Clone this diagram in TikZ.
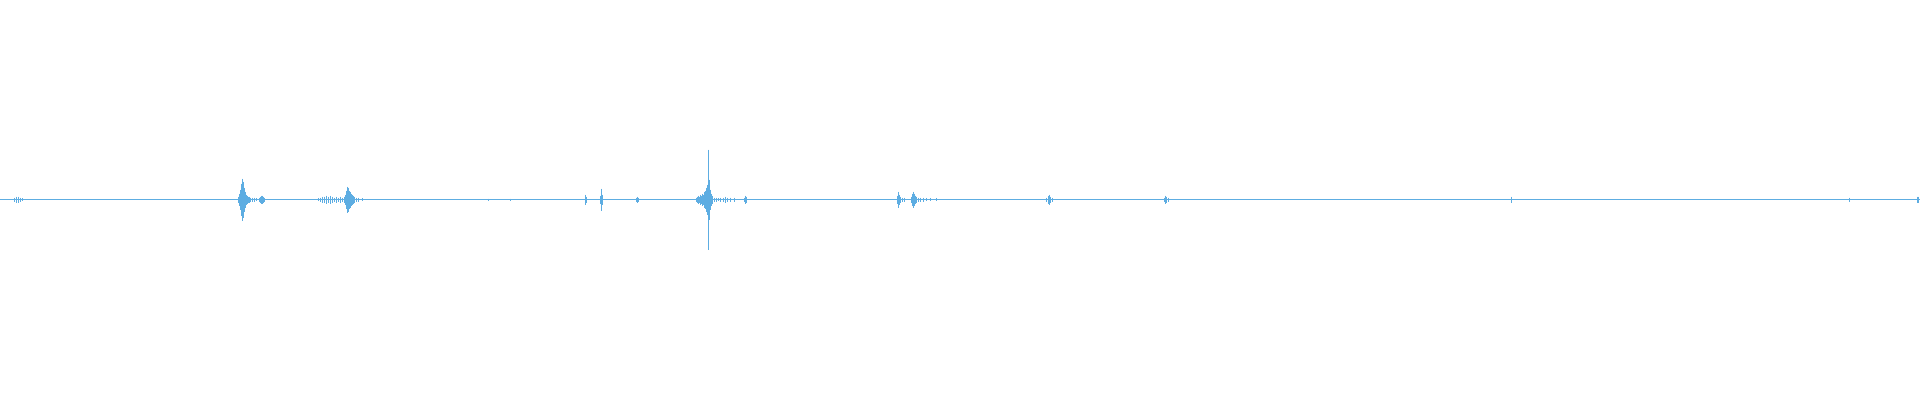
\documentclass[tikz,border=0pt]{standalone}
\definecolor{wav}{HTML}{5DADE2}
\begin{document}
\begin{tikzpicture}[x=1pt,y=-1pt,wave/.style={draw=wav,line width=1pt}]
\useasboundingbox (0,0) rectangle (1920,400);
\newcommand{\sk}[2]{\draw[wave] (#1,{199.5-#2}) -- (#1,{199.5+#2});}
\draw[wave] (0,199.5) -- (1920,199.5);
% start
\foreach \x/\h in {14/2,16/3,18/3,20/2,22/1.5} {\sk{\x}{\h}}
% first burst
\foreach \x/\h in {238/3,239/6,240/10,241/16,242/21,243/18,244/12,245/8,246/5,247/4,248/3,249/3,250/2,252/2,254/2,256/1.5,259/2,260/3,261/4,262/4,263/3,264/2} {\sk{\x}{\h}}
\foreach \x/\h in {318/1.5,320/2,322/3,324/3,326/4,328/3,330/4,332/3,334/2,336/3,338/2,340/3,342/2,344/3,345/5,346/9,347/13,348/12,349/9,350/8,351/6,352/5,353/4,354/3,356/2,358/2,362/1.5} {\sk{\x}{\h}}
\foreach \x/\h in {488/1,510/1,585/5,586/3,600/4,601/11,602/5,636/2,637/3,638/2} {\sk{\x}{\h}}
% main burst
\foreach \x/\h in {696/2,697/3,698/4,699/3,700/5,701/4,702/6,703/5,704/8,705/9,706/12,707/15,708/50,709/20,710/10,711/6,712/4,714/2,716/2,718/1.5,720/2,723/2,725/3,727/2,730/2,734/2,744/2,745/4,746/3} {\sk{\x}{\h}}
\foreach \x/\h in {897/4,898/8,899/5,900/3,902/2,904/2,911/3,912/6,913/8,914/6,915/4,916/3,918/2,920/2,923/2,926/1.5,930/1.5,936/1.5} {\sk{\x}{\h}}
\foreach \x/\h in {1046/2,1048/4,1049/5,1050/3,1052/2,1164/2,1165/4,1166/3,1168/2,1511/3,1849/2,1917/3,1918/3} {\sk{\x}{\h}}
\end{tikzpicture}
\end{document}
